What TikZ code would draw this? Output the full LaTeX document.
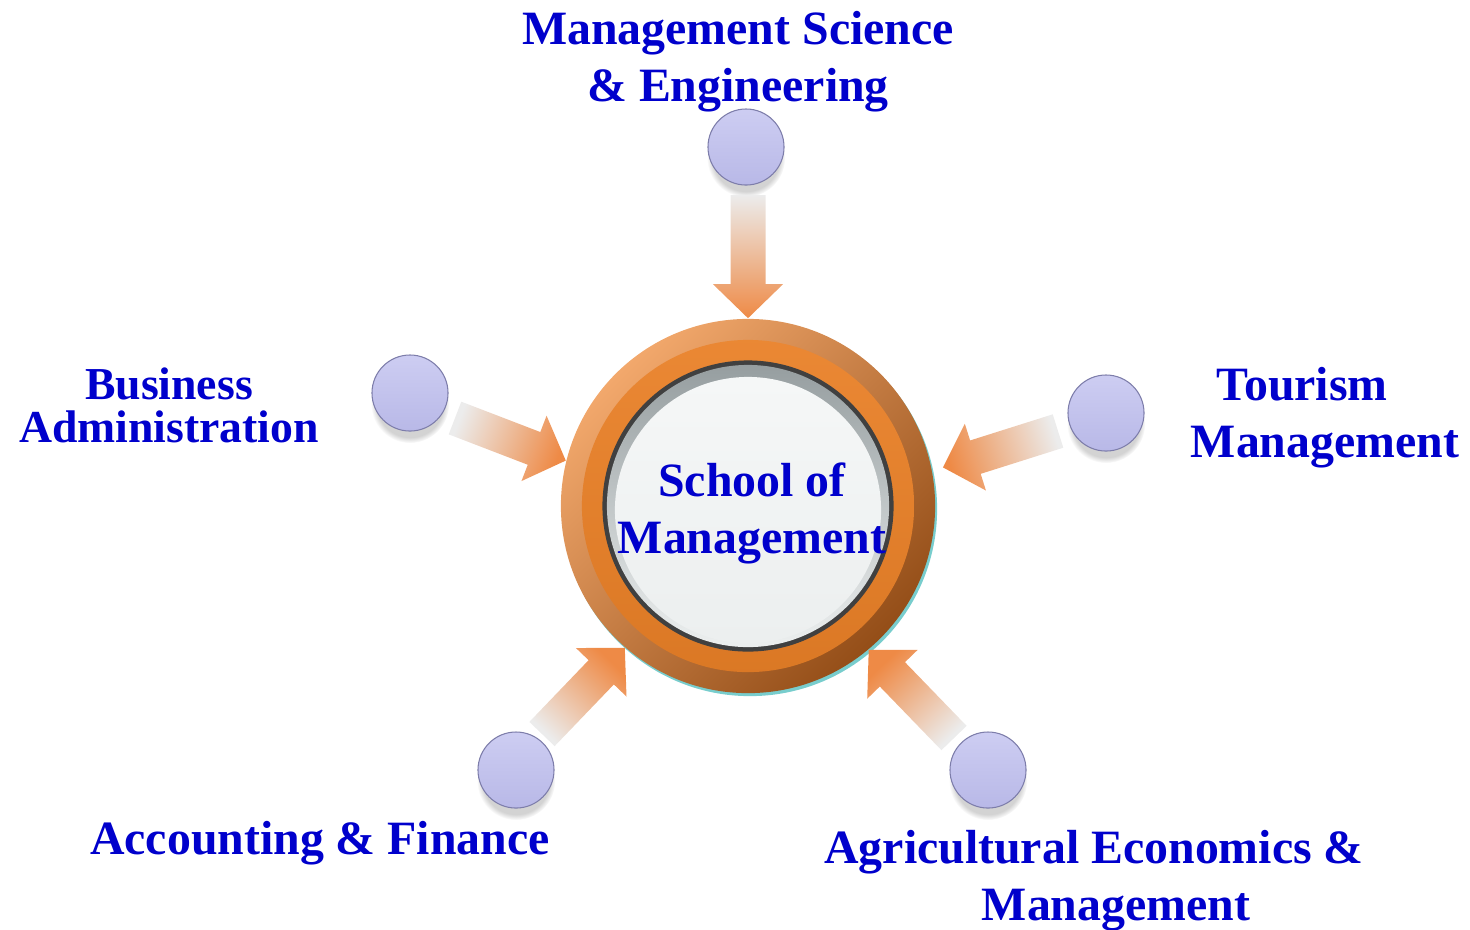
\documentclass[tikz,border=0pt]{standalone}
\usepackage{fontspec}
\setmainfont{Liberation Serif}
\usepackage{xcolor}
\definecolor{labelblue}{RGB}{0,0,204}
\definecolor{ringlight}{RGB}{242,168,108}
\definecolor{ringmid}{RGB}{234,126,36}
\definecolor{ringdark}{RGB}{148,78,24}
\definecolor{ringflat}{RGB}{233,128,39}
\definecolor{ringedge}{RGB}{64,64,64}
\definecolor{glassrim}{RGB}{150,158,160}
\definecolor{glasstop}{RGB}{245,247,247}
\definecolor{glassmid}{RGB}{200,206,207}
\definecolor{glassbot}{RGB}{236,239,239}
\definecolor{ballbase}{RGB}{172,172,227}
\definecolor{balltop}{RGB}{205,205,242}
\definecolor{ballrim}{RGB}{125,125,170}
\definecolor{arrowtail}{RGB}{236,236,236}
\definecolor{arrowhead}{RGB}{238,138,70}
\definecolor{rimshadow}{RGB}{120,205,205}
\usetikzlibrary{calc}
\usetikzlibrary{shadows}

\tikzset{
  unitlabel/.style={text=labelblue, font=\fontsize{13.6}{16.2}\selectfont\bfseries, align=center, inner sep=0pt},
  ball/.style={circle, minimum size=0.76cm, inner sep=0pt, draw=ballrim, line width=0.3pt,
    top color=balltop, middle color=ballbase, bottom color=ballbase!85!white,
    circular drop shadow={shadow xshift=0pt, shadow yshift=-3pt, opacity=0.35, shadow scale=1.03}},
}

% block arrow: tail, tip, shading angle
\newcommand{\flowarrow}[3]{%
  \coordinate (neck) at ($(#2)!0.34cm!(#1)$);
  \shade[top color=arrowtail, bottom color=arrowhead, shading angle=#3]
    ($(#1)!0.175cm!90:(#2)$) -- ($(neck)!0.175cm!90:(#2)$) -- ($(neck)!0.35cm!90:(#2)$)
    -- (#2) -- ($(neck)!0.35cm!-90:(#2)$) -- ($(neck)!0.175cm!-90:(#2)$)
    -- ($(#1)!0.175cm!-90:(#2)$) -- cycle;
}

\begin{document}
\begin{tikzpicture}[x=0.01cm, y=-0.01cm]
  \useasboundingbox (0,0) rectangle (1470,929);

  %hub
  \coordinate (hub) at (748,506);
  \fill[rimshadow] ($(hub)+(2,3)$) circle (1.87cm);
  \shade[top color=ringlight, middle color=ringmid, bottom color=ringdark, shading angle=45] (hub) circle (1.87cm);
  \shade[top color=ringflat!94!white, bottom color=ringflat!94!black] (hub) circle (1.66cm);
  \fill[ringedge] (hub) circle (1.455cm);
  \shade[top color=glassrim, bottom color=glassbot] (hub) circle (1.41cm);
  \shade[top color=glasstop, middle color=glassmid, bottom color=glassbot] ($(hub)+(0,4)$) circle (1.33cm);
  \node[unitlabel, circle, minimum size=3.74cm] (som) at (hub) {};
  \node[unitlabel] (som-text) at (752,513) {School of\\Management};

  %spheres
  \node[ball] (ms-ball) at (746,147) {};
  \node[ball] (ba-ball) at (410,393) {};
  \node[ball] (tm-ball) at (1106,413) {};
  \node[ball] (af-ball) at (516,770) {};
  \node[ball] (aem-ball) at (988,770) {};

  %arrows
  \coordinate (ms-tail) at (748,195);
  \coordinate (ba-tail) at (455,418);
  \coordinate (tm-tail) at (1058,431);
  \coordinate (af-tail) at (542,734);
  \coordinate (aem-tail) at (954,738);
  \flowarrow{ms-tail}{som.90}{0}
  \flowarrow{ba-tail}{som.166}{69}
  \flowarrow{tm-tail}{[shift={(10,-6)}]som.10}{287}
  \flowarrow{af-tail}{som.229}{136}
  \flowarrow{aem-tail}{som.310}{224}

  %labels
  \node[unitlabel] (ms) at (738,62) {Management Science\\\& Engineering};
  \node[unitlabel, font=\fontsize{13}{12.3}\selectfont\bfseries] (ba) at (169,405) {Business\\Administration};
  \node[unitlabel] (tm) at (1325,418) {Tourism\hspace*{0.96em}\\Management};
  \node[unitlabel] (af) at (320,843) {Accounting \& Finance};
  \node[unitlabel] (aem) at (1116,881) {Agricultural Economics \&\hspace*{0.92em}\\Management};
\end{tikzpicture}
\end{document}
